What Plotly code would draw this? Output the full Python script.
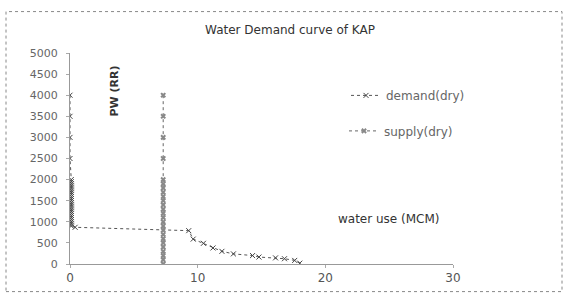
import plotly.graph_objects as go

# ---- data ----
demand_x = [0, 0, 0, 0,
            0.1, 0.1, 0.1, 0.1, 0.1, 0.1, 0.1, 0.1, 0.1, 0.1, 0.1, 0.1,
            0.1, 0.1, 0.1, 0.1, 0.1, 0.1, 0.1, 0.1, 0.1, 0.1, 0.1,
            0.4, 9.3, 9.65, 10.45, 11.2, 11.9, 12.8, 14.3, 14.8, 16.1, 16.8, 17.6, 18.0]
demand_y = [4000, 3500, 3000, 2500,
            2000, 1950, 1900, 1850, 1800, 1750, 1700, 1650, 1600, 1550, 1500, 1450,
            1400, 1350, 1300, 1250, 1200, 1150, 1100, 1050, 1000, 950, 900,
            870, 790, 590, 490, 380, 300, 240, 200, 165, 145, 125, 85, 20]

supply_x = [7.3] * 25
supply_y = [4000, 3500, 3000, 2500,
            2000, 1900, 1800, 1700, 1600, 1500, 1400, 1300, 1200, 1100, 1000,
            900, 800, 700, 600, 500, 400, 300, 200, 100, 0]

y_ticks = [0, 500, 1000, 1500, 2000, 2500, 3000, 3500, 4000, 4500, 5000]
x_ticks = [0, 10, 20, 30]

# ---- figure ----
fig = go.Figure()
fig.add_trace(go.Scatter(
    x=demand_x, y=demand_y, name="demand(dry)", mode="lines+markers",
    line=dict(color="#555555", width=1, dash="dot"),
    marker=dict(symbol="x-thin-open", size=5, color="#444444",
                line=dict(color="#444444", width=1)),
    legend="legend"))
fig.add_trace(go.Scatter(
    x=supply_x, y=supply_y, name="supply(dry)", mode="lines+markers",
    line=dict(color="#666666", width=1, dash="dot"),
    marker=dict(symbol="x", size=5, color="#888888"),
    legend="legend2"))

L, R, T, B = 70, 113, 53, 30
pw, ph = 566 - L - R, 297 - T - B

def px_x(p):
    return (p - L) / pw

def px_y(p):
    return (297 - B - p) / ph

fig.update_layout(
    width=566, height=297,
    showlegend=True,
    margin=dict(l=L, r=R, t=T, b=B),
    paper_bgcolor="white", plot_bgcolor="white",
    font=dict(family="DejaVu Sans", size=12, color="#555555"),
    title=dict(text="Water Demand curve of KAP", x=px_x(290), xref="paper",
               xanchor="center", y=1 - 30 / 297, yanchor="middle",
               font=dict(size=12, color="#333333")),
    xaxis=dict(range=[0, 30], tickvals=x_ticks, showgrid=False, zeroline=False,
               showline=True, linecolor="#999999", linewidth=1,
               ticks="outside", ticklen=3, tickcolor="#aaaaaa",
               tickfont=dict(size=12, color="#555555")),
    yaxis=dict(range=[0, 5000], tickvals=y_ticks, showgrid=False, zeroline=False,
               showline=True, linecolor="#999999", linewidth=1,
               ticks="outside", ticklen=3, tickcolor="#aaaaaa",
               ticklabelstandoff=6,
               tickfont=dict(size=11, color="#666666")),
    legend=dict(x=px_x(346), y=px_y(96), xanchor="left", yanchor="middle",
                bgcolor="rgba(0,0,0,0)", font=dict(size=12, color="#666666")),
    legend2=dict(x=px_x(344), y=px_y(132), xanchor="left", yanchor="middle",
                 bgcolor="rgba(0,0,0,0)", font=dict(size=12, color="#666666")),
    annotations=[
        dict(text="<b>PW (RR)</b>", x=px_x(114), y=px_y(92), xref="paper", yref="paper",
             xanchor="center", yanchor="middle",
             textangle=-90, showarrow=False, font=dict(size=11, color="#333333")),
        dict(text="water use (MCM)", x=px_x(389), y=px_y(221), xref="paper", yref="paper",
             xanchor="center", yanchor="middle",
             showarrow=False, font=dict(size=12, color="#333333")),
    ],
    shapes=[
        dict(type="rect", xref="paper", yref="paper",
             x0=px_x(6), x1=px_x(562), y0=px_y(295), y1=px_y(11),
             line=dict(color="#888888", width=1, dash="dot")),
    ],
)

fig.write_html("out.html", config={"displayModeBar": False},
               post_script="document.body.style.margin='0px';document.body.style.overflow='hidden';")
